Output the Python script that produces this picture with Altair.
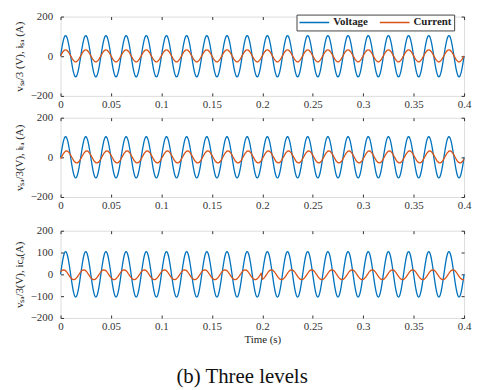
import altair as alt
import pandas as pd
import numpy as np

# Time base (s), 1 ms sampling over 0 .. 0.4 s
t_step = 0.001
n_points = 401
cycle_len = 20  # samples per 50 Hz cycle

# One cycle of each waveform (value per 1 ms sample)
voltage_cycle = [0, 32, 61, 84, 99, 104, 99, 84, 61, 32,
                 0, -32, -61, -84, -99, -104, -99, -84, -61, -32]
current1_cycle = [2, 11, 20, 26, 31, 32, 31, 26, 20, 11,
                  2, -7, -16, -22, -27, -28, -27, -22, -16, -7]
current2_cycle = [-7, 2, 11, 20, 26, 31, 32, 31, 26, 20,
                  11, 2, -7, -16, -22, -27, -28, -27, -22, -16]
current3_cycle_before = [11, 16, 19, 20, 19, 16, 11, 5, -2, -9,
                         -15, -20, -23, -24, -23, -20, -15, -9, -2, 5]
current3_cycle_after = [-23, -20, -15, -9, -2, 5, 11, 16, 19, 20,
                        19, 16, 11, 5, -2, -9, -15, -20, -23, -24]
switch_time_index = 200  # 0.2 s

x_ticks = [0, 0.05, 0.1, 0.15, 0.2, 0.25, 0.3, 0.35, 0.4]
y_ticks_a = [-200, 0, 200]
y_ticks_b = [-200, -100, 0, 100, 200]
y_titles = ["vₛₐ/3 (V), iₛₐ (A)", "vₛₐ/3(V), iₗₐ (A)", "vₛₐ/3(V), icₐ(A)"]
series_names = ["Voltage", "Current"]
series_colors = ["#0072BD", "#D95319"]

idx = np.arange(n_points)
t = idx * t_step
k = idx % cycle_len
volt = np.array(voltage_cycle)[k]
cur1 = np.array(current1_cycle)[k]
cur2 = np.array(current2_cycle)[k]
cur3 = np.where(idx < switch_time_index,
                np.array(current3_cycle_before)[k],
                np.array(current3_cycle_after)[k])

def make_df(cur):
    return pd.concat([
        pd.DataFrame({"t": t, "value": volt, "series": "Voltage"}),
        pd.DataFrame({"t": t, "value": cur, "series": "Current"}),
    ], ignore_index=True)

FONT = "Liberation Serif, Times New Roman, serif"
color_scale = alt.Scale(domain=series_names, range=series_colors)
x_scale = alt.Scale(domain=[0, 0.4], nice=False, zero=False)
y_scale = alt.Scale(domain=[-200, 200], nice=False)

def panel(df, height, yvals, ytitle, xtitle, legend):
    base = alt.Chart(df)
    xaxis = alt.Axis(orient="bottom", values=x_ticks, format="~g", offset=-3,
                     tickSize=3, domain=False, grid=False, labelPadding=3,
                     title=xtitle, labelFont=FONT, labelFontSize=11,
                     labelColor="#333", titleFont=FONT, titleFontSize=11,
                     titleFontWeight="normal", titleColor="#222",
                     titlePadding=2, tickColor="#333", labelFlush=False)
    yaxis = alt.Axis(orient="left", values=yvals, offset=-3, tickSize=3,
                     domain=False, grid=False, labelPadding=8, title=ytitle,
                     labelFont=FONT, labelFontSize=11, labelColor="#333",
                     titleFont=FONT, titleFontSize=11, titleFontWeight="normal",
                     titleColor="#222", titlePadding=6, tickColor="#333")
    if legend:
        leg = alt.Legend(orient="none", legendX=238, legendY=-2,
                         direction="horizontal", title=None,
                         symbolType="stroke", symbolSize=900,
                         symbolStrokeWidth=1.5, labelFont=FONT,
                         labelFontSize=11, labelFontWeight="bold",
                         labelColor="#222", fillColor="white",
                         strokeColor="#444", padding=2, columnPadding=10,
                         labelOffset=3, clipHeight=12)
    else:
        leg = None
    lines = []
    for name in series_names:
        lines.append(
            base.transform_filter(alt.datum.series == name)
            .mark_line(strokeWidth=1.3, interpolate="monotone")
            .encode(
                x=alt.X("t:Q", scale=x_scale, axis=xaxis),
                y=alt.Y("value:Q", scale=y_scale, axis=yaxis),
                color=alt.Color("series:N", scale=color_scale, legend=leg),
            )
        )
    main = alt.layer(*lines)
    ticks = base.mark_line(opacity=0).encode(
        x=alt.X("t:Q", scale=x_scale,
                axis=alt.Axis(orient="top", values=x_ticks, offset=-3,
                              tickSize=3, labels=False, domain=False,
                              grid=False, title=None, tickColor="#333")),
        y=alt.Y("value:Q", scale=y_scale,
                axis=alt.Axis(orient="right", values=yvals, offset=-3,
                              tickSize=3, labels=False, domain=False,
                              grid=False, title=None, tickColor="#333")),
        detail="series:N",
    )
    return alt.layer(main, ticks).resolve_axis(
        x="independent", y="independent").properties(width=407, height=height)

p1 = panel(make_df(cur1), 80, y_ticks_a, y_titles[0], None, True)
p2 = panel(make_df(cur2), 80, y_ticks_a, y_titles[1], None, False)
p3 = panel(make_df(cur3), 88, y_ticks_b, y_titles[2], "Time (s)", False)

chart = alt.vconcat(
    alt.vconcat(p1, p2, spacing=0),
    p3, spacing=12,
).resolve_legend(color="independent").properties(
    padding={"left": 4, "top": 0, "right": 0, "bottom": 0},
    title=alt.TitleParams("(b) Three levels", orient="bottom", anchor="middle",
                          fontSize=21, font=FONT, fontWeight="normal",
                          color="#111", offset=21),
).configure_view(stroke="#333", strokeWidth=1).configure(background="white")

chart.save("out.html", embed_options={"renderer": "svg", "actions": False})
